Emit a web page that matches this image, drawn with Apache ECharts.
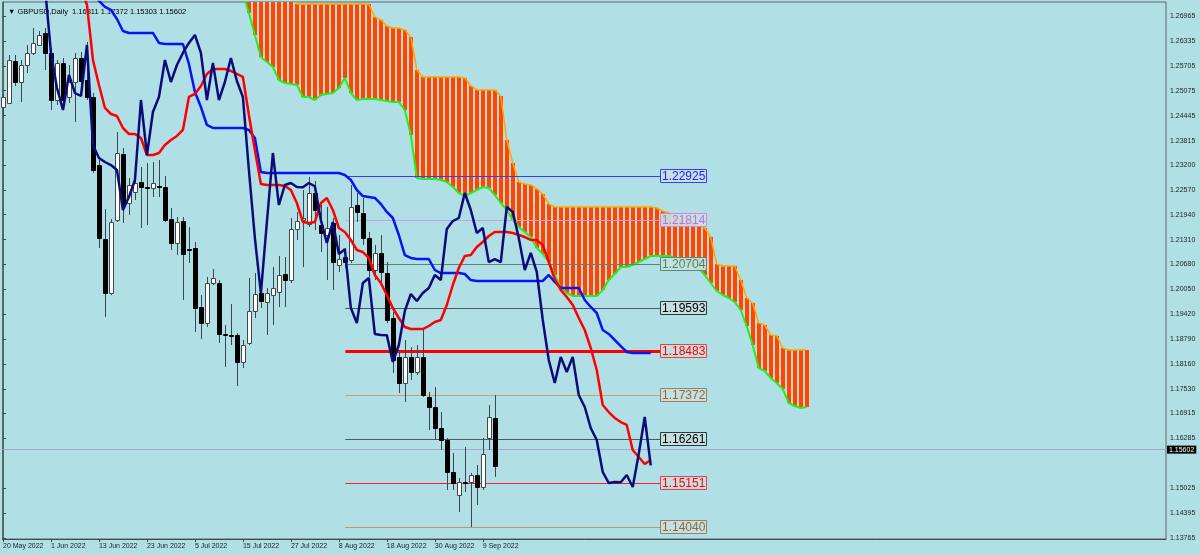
<!DOCTYPE html>
<html><head><meta charset="utf-8">
<script src="https://cdn.jsdelivr.net/npm/echarts@6/dist/echarts.min.js"></script>
<style>html,body{margin:0;padding:0;background:#B0E0E6}#c{width:1200px;height:555px}</style>
</head><body><div id="c"></div>
<script>
// ---------- DATA ----------
const chartTitle = '\u25BC GBPUSD,Daily  1.16811 1.17372 1.15303 1.15602';
const dateLabels = ['20 May 2022','1 Jun 2022','13 Jun 2022','23 Jun 2022','5 Jul 2022','15 Jul 2022','27 Jul 2022','8 Aug 2022','18 Aug 2022','30 Aug 2022','9 Sep 2022'];
const dateLabelBars = [0,8,16,24,32,40,48,56,64,72,80];
const priceTicks = [1.26965,1.26335,1.25705,1.25075,1.24445,1.23815,1.23200,1.22570,1.21940,1.21310,1.20680,1.20050,1.19420,1.18790,1.18160,1.17530,1.16915,1.16285,1.15025,1.14395,1.13765];
const lastPrice = 1.15602;

const open = [1.24664,1.24765,1.25827,1.25296,1.25726,1.26030,1.26232,1.26536,1.26030,1.24841,1.25777,1.24917,1.25296,1.25903,1.25347,1.24917,1.23197,1.21326,1.19960,1.21807,1.23476,1.22236,1.22515,1.22768,1.22641,1.22616,1.22667,1.22641,1.21832,1.21225,1.21781,1.21073,1.21099,1.19607,1.19202,1.20213,1.20213,1.18924,1.18899,1.18899,1.18216,1.18696,1.19505,1.19960,1.19733,1.19910,1.19986,1.20441,1.20289,1.21579,1.21807,1.21705,1.22489,1.21680,1.21427,1.21731,1.20669,1.20871,1.20795,1.22186,1.21984,1.21351,1.20542,1.20972,1.20466,1.19328,1.18342,1.17685,1.18342,1.17963,1.18342,1.17331,1.17078,1.16547,1.16243,1.15434,1.14852,1.15181,1.15181,1.15358,1.15055,1.16294,1.16811];
const close = [1.24917,1.25853,1.25296,1.25726,1.26030,1.26283,1.26485,1.26030,1.24841,1.25777,1.24841,1.25296,1.25903,1.25322,1.24917,1.23071,1.21351,1.19960,1.21756,1.23501,1.22186,1.22692,1.22742,1.22641,1.22635,1.22742,1.22660,1.21807,1.21225,1.21756,1.20947,1.21068,1.19581,1.19202,1.20213,1.20340,1.18924,1.18899,1.18895,1.18216,1.18646,1.19505,1.19935,1.19758,1.19960,1.20087,1.20416,1.20289,1.21579,1.21781,1.21857,1.22489,1.22060,1.21478,1.21604,1.20744,1.20820,1.20744,1.22135,1.22009,1.21351,1.20542,1.20972,1.20492,1.19278,1.18266,1.17685,1.18342,1.17963,1.18342,1.17381,1.17078,1.16547,1.16243,1.15434,1.15156,1.15181,1.15175,1.15358,1.15055,1.15889,1.16825,1.15602];
const low = [1.24386,1.24740,1.25195,1.24791,1.25524,1.25979,1.26207,1.25600,1.24588,1.24715,1.24639,1.24765,1.24285,1.24968,1.24841,1.22995,1.21099,1.19354,1.19910,1.21756,1.21731,1.21933,1.22312,1.21604,1.21680,1.22388,1.22388,1.21756,1.21048,1.20921,1.19784,1.20719,1.18974,1.18797,1.19101,1.20163,1.18696,1.18090,1.18646,1.17609,1.18064,1.18646,1.19328,1.19581,1.18899,1.19151,1.19607,1.19607,1.20213,1.21301,1.20618,1.21629,1.21554,1.20997,1.20289,1.20036,1.20492,1.20593,1.20719,1.21756,1.21174,1.20365,1.20289,1.20239,1.19202,1.17938,1.17432,1.17205,1.17761,1.17887,1.17331,1.16496,1.16243,1.15990,1.14979,1.14979,1.14422,1.14928,1.14040,1.14599,1.14979,1.15990,1.15303];
const high = [1.24993,1.25979,1.25979,1.25853,1.26232,1.26662,1.26586,1.26662,1.26156,1.25853,1.25903,1.25726,1.26030,1.26055,1.26308,1.25018,1.23324,1.22085,1.21832,1.24032,1.23627,1.22869,1.22995,1.23147,1.23248,1.23273,1.23324,1.22919,1.22110,1.21882,1.21882,1.21629,1.21250,1.19910,1.20365,1.20567,1.20289,1.19151,1.19682,1.18949,1.18772,1.20340,1.20466,1.20163,1.20087,1.20618,1.20896,1.20871,1.21857,1.22009,1.22565,1.22894,1.22793,1.22186,1.22135,1.21857,1.21427,1.21099,1.22692,1.22489,1.22363,1.21503,1.21174,1.21427,1.20744,1.19480,1.18469,1.18772,1.18595,1.18646,1.19076,1.17457,1.17584,1.16951,1.16294,1.15914,1.15282,1.16066,1.15409,1.15611,1.16294,1.17129,1.17372];

// Tenkan-sen (red), starts at bar 13
const tenkanStart = 13;
const tenkan = [1.27700,1.27244,1.25853,1.25220,1.24639,1.24487,1.24437,1.24133,1.23981,1.23981,1.23880,1.23450,1.23450,1.23501,1.23703,1.23830,1.23931,1.24083,1.24917,1.24993,1.25195,1.25499,1.25625,1.25625,1.25625,1.25575,1.25499,1.25423,1.24462,1.23577,1.22717,1.22692,1.22692,1.22692,1.22667,1.22565,1.22236,1.21756,1.21731,1.21756,1.22236,1.22363,1.22060,1.21604,1.21503,1.21301,1.21048,1.20997,1.20846,1.20416,1.20213,1.19910,1.19581,1.19328,1.19101,1.19050,1.19050,1.19050,1.19126,1.19227,1.19278,1.19657,1.20163,1.20593,1.20896,1.20921,1.21124,1.21250,1.21402,1.21503,1.21503,1.21503,1.21478,1.21427,1.21376,1.21301,1.21301,1.21174,1.20744,1.20315,1.20036,1.19860,1.19657,1.19328,1.19025,1.18570,1.18014,1.17129,1.16951,1.16800,1.16698,1.16623,1.15990,1.15813,1.15636,1.15737];
// Kijun-sen (blue), starts at bar 15
const kijunStart = 15;
const kijun = [1.27700,1.27345,1.27193,1.27117,1.26890,1.26586,1.26536,1.26536,1.26536,1.26536,1.26536,1.26283,1.26257,1.26257,1.26257,1.26257,1.25752,1.25044,1.24664,1.24209,1.24133,1.24133,1.24133,1.24133,1.24133,1.24133,1.24083,1.23880,1.23020,1.22995,1.22995,1.22995,1.22995,1.22995,1.22995,1.22995,1.22995,1.22995,1.22995,1.22995,1.22995,1.22995,1.22944,1.22818,1.22565,1.22413,1.22388,1.22363,1.22211,1.22009,1.21857,1.21427,1.20921,1.20846,1.20820,1.20820,1.20820,1.20542,1.20466,1.20466,1.20466,1.20466,1.20441,1.20289,1.20264,1.20264,1.20264,1.20264,1.20264,1.20264,1.20264,1.20264,1.20264,1.20264,1.20264,1.20264,1.20416,1.20239,1.20087,1.20087,1.20087,1.20087,1.19784,1.19607,1.19455,1.19025,1.18924,1.18772,1.18620,1.18469,1.18443,1.18443,1.18443,1.18443];
// Chikou span (navy), starts at bar 7
const chikouStart = 7;
const chikou = [1.27700,1.26030,1.25145,1.24588,1.25474,1.25018,1.24942,1.26232,1.23703,1.23375,1.23273,1.23197,1.23071,1.22060,1.22388,1.22818,1.24841,1.23450,1.24538,
1.24917,1.25853,1.25296,1.25726,1.26030,1.26283,1.26485,1.26030,1.24841,1.25777,1.24841,1.25296,1.25903,1.25322,1.24917,1.23071,1.21351,1.19960,1.21756,1.23501,1.22186,1.22692,1.22742,1.22641,1.22635,1.22742,1.22660,1.21807,1.21225,1.21756,1.20947,1.21068,1.19581,1.19202,1.20213,1.20340,1.18924,1.18899,1.18895,1.18216,1.18646,1.19505,1.19935,1.19758,1.19960,1.20087,1.20416,1.20289,1.21579,1.21781,1.21857,1.22489,1.22060,1.21478,1.21604,1.20744,1.20820,1.20744,1.22135,1.22009,1.21351,1.20542,1.20972,1.20492,1.19278,1.18266,1.17685,1.18342,1.17963,1.18342,1.17381,1.17078,1.16547,1.16243,1.15434,1.15156,1.15181,1.15175,1.15358,1.15055,1.15889,1.16825,1.15602];
// Senkou spans (cloud), start at bar 40
const spanStart = 40;
const spanA = [1.27700,1.27700,1.27700,1.27700,1.27700,1.27700,1.27700,1.27700,1.27700,1.27269,1.27269,1.27269,1.27269,1.27269,1.27269,1.27269,1.27269,1.27269,1.27269,1.27269,1.27269,1.27269,1.26940,1.26865,1.26712,1.26662,1.26662,1.26612,1.26434,1.25600,1.25423,1.25423,1.25423,1.25423,1.25423,1.25423,1.25423,1.25398,1.25195,1.25094,1.25094,1.25094,1.25094,1.24942,1.23830,1.23248,1.22768,1.22717,1.22692,1.22591,1.22464,1.22211,1.22135,1.22135,1.22135,1.22135,1.22135,1.22135,1.22135,1.22135,1.22135,1.22135,1.22135,1.22135,1.22135,1.22135,1.22135,1.22135,1.22135,1.22110,1.22034,1.21984,1.21908,1.21832,1.21781,1.21731,1.21680,1.21604,1.21376,1.20693,1.20643,1.20643,1.20643,1.20289,1.19834,1.19708,1.19202,1.19151,1.18899,1.18873,1.18570,1.18519,1.18519,1.18519,1.18519];
const spanB = [1.27570,1.27041,1.26485,1.25929,1.25802,1.25676,1.25347,1.25271,1.25246,1.25221,1.24917,1.24917,1.24841,1.24968,1.24993,1.25018,1.25145,1.25398,1.25018,1.24841,1.24866,1.24866,1.24866,1.24841,1.24816,1.24791,1.24791,1.24588,1.23956,1.22869,1.22844,1.22844,1.22844,1.22819,1.22768,1.22641,1.22489,1.22413,1.22489,1.22565,1.22641,1.22616,1.22439,1.22236,1.22060,1.21807,1.21629,1.21503,1.21376,1.21099,1.20947,1.20744,1.20416,1.20087,1.19960,1.19885,1.19885,1.19885,1.19885,1.19885,1.20036,1.20289,1.20441,1.20618,1.20618,1.20669,1.20744,1.20820,1.20896,1.20896,1.20896,1.20896,1.20846,1.20770,1.20719,1.20643,1.20593,1.20416,1.20213,1.20011,1.19910,1.19834,1.19733,1.19531,1.19126,1.18646,1.18064,1.17988,1.17812,1.17685,1.17534,1.17179,1.17103,1.17053,1.17078];
// Horizontal levels
const levels = [1.22925,1.21814,1.20704,1.19593,1.18483,1.17372,1.16261,1.15151,1.14040];

// ---------- STYLE ----------
const levelLineColor = ['#3a3aff','#c7a0e4','#5e8276','#4f5a60','#ff0000','#b8ab78','#4f5a60','#ff1a3a','#b39c70'];
const levelTextColor = ['#2424ff','#c070d8','#3f8a68','#000000','#ff0000','#8c6a40','#000000','#ff0000','#8c6a40'];
const levelBoxColor  = ['#3a3aff','#c98ae0','#5b8a78','#2a3a40','#ff3a3a','#9a8060','#2a3a40','#ff3050','#9a8060'];
const levelWidth     = [1,1,1,1,3,1,1,1,1];
const LVL_FROM = 57.08, LVL_TO = 109.55;
const FONT = 'Liberation Sans, Arial, sans-serif';

const seq = (s, arr) => arr.map((v, k) => [s + k, v]);
const candleData = open.map((o, i) => [i, o, close[i], low[i], high[i]]);
const cloudData = spanA.map((a, k) => [spanStart + k, a, spanB[k]]);
const levelData = levels.map((v, k) => [k, v]);

function clipTo(r, cs) {
  return echarts.graphic.clipRectByRect(r, {x: cs.x, y: cs.y, width: cs.width, height: cs.height});
}

function renderCandle(params, api) {
  const i = api.value(0), o = api.value(1), c = api.value(2), l = api.value(3), h = api.value(4);
  const po = api.coord([i, o]), pc = api.coord([i, c]), pl = api.coord([i, l]), ph = api.coord([i, h]);
  const x = Math.round(po[0]) + 0.5;
  const bull = c >= o;
  const top = Math.round(Math.min(po[1], pc[1])) + 0.5;
  const hgt = Math.max(1, Math.round(Math.abs(po[1] - pc[1])));
  return {type: 'group', children: [
    {type: 'line', shape: {x1: x, y1: Math.round(ph[1]), x2: x, y2: Math.round(pl[1])}, style: {stroke: '#3b4850', lineWidth: 1}},
    {type: 'rect', shape: {x: x - 2, y: top, width: 4, height: hgt}, style: {fill: bull ? '#ffffff' : '#000000', stroke: bull ? '#40484c' : '#000000', lineWidth: 1}}
  ]};
}

function renderCloud(params, api) {
  const i = api.value(0);
  const pa = api.coord([i, api.value(1)]), pb = api.coord([i, api.value(2)]);
  const cs = params.coordSys;
  const top = Math.min(pa[1], pb[1]), bot = Math.max(pa[1], pb[1]);
  const cx = Math.round(pa[0]);
  const kids = [];
  const bg = clipTo({x: cx - 3, y: top, width: 6, height: bot - top}, cs);
  if (bg) kids.push({type: 'rect', shape: bg, style: {fill: '#cfd9d3'}});
  const st = clipTo({x: cx - 2, y: top, width: 4, height: bot - top}, cs);
  if (st) kids.push({type: 'rect', shape: st, style: {fill: '#ff4500'}});
  return {type: 'group', children: kids};
}

function renderLevel(params, api) {
  const k = api.value(0), v = api.value(1);
  const p0 = api.coord([LVL_FROM, v]), p1 = api.coord([LVL_TO, v]);
  const lw = levelWidth[k];
  const y = lw % 2 ? Math.round(p0[1]) + 0.5 : Math.round(p0[1]);
  const bx = Math.round(p1[0]) + 0.5;
  return {type: 'group', children: [
    {type: 'line', shape: {x1: p0[0], y1: y, x2: bx, y2: y}, style: {stroke: levelLineColor[k], lineWidth: lw}},
    {type: 'rect', shape: {x: bx, y: Math.round(p0[1]) - 6.5, width: 46, height: 13}, style: {fill: 'rgba(200,222,224,0.92)', stroke: levelBoxColor[k], lineWidth: 1}},
    {type: 'text', style: {x: bx + 1.5, y: Math.round(p0[1]) + 0.5, text: v.toFixed(5), fill: levelTextColor[k], font: '12px ' + FONT, verticalAlign: 'middle', align: 'left'}}
  ]};
}

const chart = echarts.init(document.getElementById('c'), null, {renderer: 'canvas'});
chart.setOption({
  animation: false,
  backgroundColor: '#B0E0E6',
  title: {text: chartTitle, left: 3, top: 3, textStyle: {fontSize: 7.5, fontWeight: 'normal', color: '#000', fontFamily: FONT}},
  grid: {left: 2, right: 34, top: 2, bottom: 16, show: true, borderColor: '#5a666c', borderWidth: 1, backgroundColor: 'transparent'},
  xAxis: {
    type: 'value', min: -0.0833, max: 193.9167,
    axisLine: {show: true, onZero: false, lineStyle: {color: '#3e4a50', width: 1}},
    axisTick: {show: true, length: 3, inside: false, customValues: dateLabelBars, lineStyle: {color: '#3e4a50'}},
    axisLabel: {show: true, customValues: dateLabelBars, margin: 4, align: 'left', fontSize: 7, color: '#1e1e1e', fontFamily: FONT,
      formatter: v => { const k = dateLabelBars.indexOf(Math.round(v)); return k >= 0 ? dateLabels[k] : ''; }},
    splitLine: {show: false}
  },
  yAxis: {
    type: 'value', position: 'right', min: 1.13740, max: 1.27319, scale: true,
    axisLine: {show: true, lineStyle: {color: '#4d6b55', width: 1}},
    axisTick: {show: true, length: 3, customValues: priceTicks, lineStyle: {color: '#3e4a50'}},
    axisLabel: {show: true, customValues: priceTicks, margin: 4, fontSize: 7, color: '#1e1e1e', fontFamily: FONT, formatter: v => v.toFixed(5)},
    splitLine: {show: false}
  },
  series: [
    {type: 'custom', name: 'cloud', renderItem: renderCloud, data: cloudData, z: 1, silent: true, encode: {x: 0, y: [1, 2]}},
    {type: 'line', name: 'spanA', data: seq(spanStart, spanA), showSymbol: false, z: 2, lineStyle: {color: '#ffa500', width: 1.5}},
    {type: 'line', name: 'spanB', data: seq(spanStart, spanB), showSymbol: false, z: 2, lineStyle: {color: '#22ee22', width: 2}},
    {type: 'line', name: 'last', data: [], z: 3, silent: true,
      markLine: {symbol: 'none', silent: true, data: [{yAxis: lastPrice}], lineStyle: {color: '#a7a8cf', type: 'solid', width: 1},
        label: {show: true, position: 'end', distance: 1, formatter: () => lastPrice.toFixed(5), backgroundColor: '#000', color: '#fff', fontSize: 7, padding: [1, 2, 0, 2], fontFamily: FONT}}},
    {type: 'custom', name: 'levels', renderItem: renderLevel, data: levelData, z: 4, silent: true, encode: {x: 0, y: 1}},
    {type: 'custom', name: 'candles', renderItem: renderCandle, data: candleData, z: 5, silent: true, encode: {x: 0, y: [1, 2, 3, 4]}},
    {type: 'line', name: 'kijun', data: seq(kijunStart, kijun), showSymbol: false, z: 6, lineStyle: {color: '#0a14f0', width: 2.5}},
    {type: 'line', name: 'tenkan', data: seq(tenkanStart, tenkan), showSymbol: false, z: 7, lineStyle: {color: '#ff0000', width: 2.5}},
    {type: 'line', name: 'chikou', data: seq(chikouStart, chikou), showSymbol: false, z: 8, lineStyle: {color: '#0c0c78', width: 2.5}}
  ]
});
</script>
</body></html>
